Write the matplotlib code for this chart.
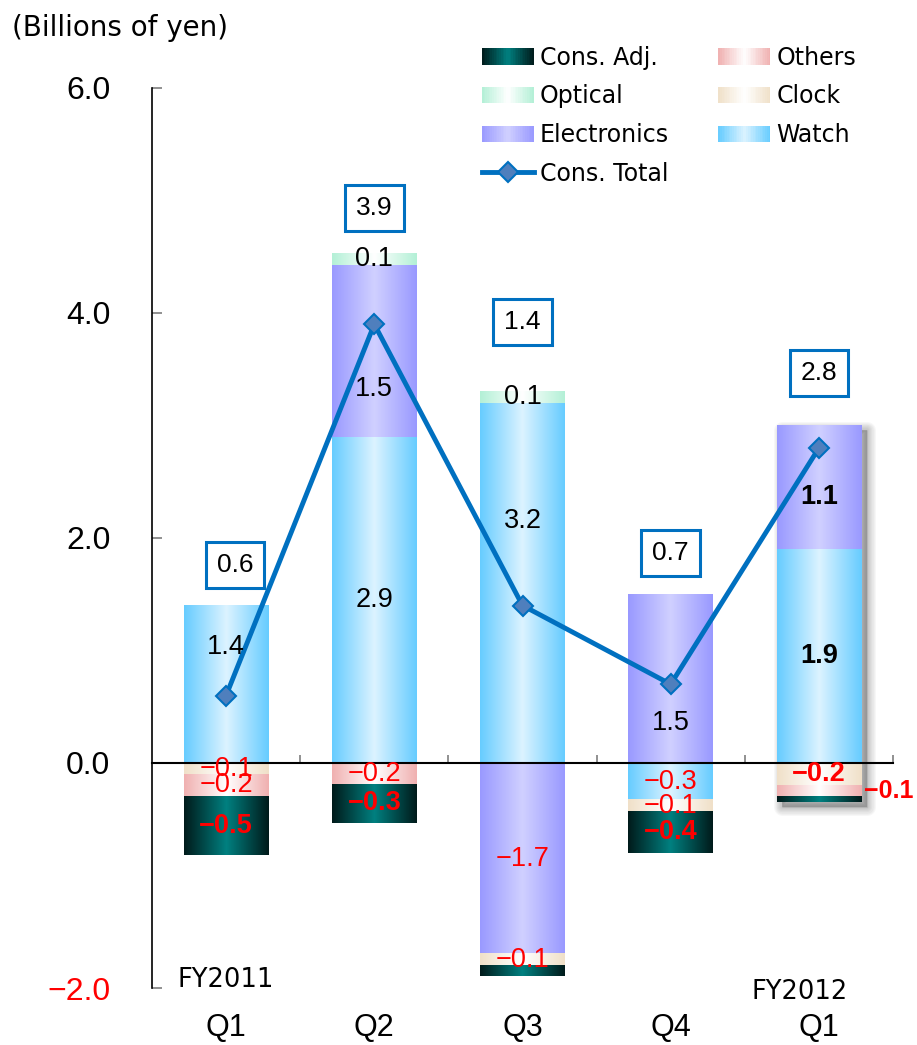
import numpy as np
import matplotlib
matplotlib.use("Agg")
import matplotlib.pyplot as plt
from matplotlib.colors import LinearSegmentedColormap
from matplotlib.legend_handler import HandlerBase
from matplotlib.patches import Rectangle
from matplotlib.lines import Line2D
from matplotlib.transforms import offset_copy, blended_transform_factory

# Operating income by segment, billions of yen
quarters = ["Q1", "Q2", "Q3", "Q4", "Q1"]
fiscal_years = ["FY2011", "", "", "", "FY2012"]

watch = [1.40, 2.90, 3.20, -0.33, 1.90]
electronics = [0.0, 1.53, -1.70, 1.50, 1.10]
optical = [0.0, 0.10, 0.10, 0.0, 0.0]
clock = [-0.10, 0.0, -0.10, -0.10, -0.20]
others = [-0.20, -0.19, 0.0, 0.0, -0.10]
cons_adj = [-0.52, -0.34, -0.09, -0.37, -0.05]
cons_total = [0.6, 3.9, 1.4, 0.7, 2.8]

yticks = [6.0, 4.0, 2.0, 0.0, -2.0]

# stacking order, with edge/centre colours of the horizontal gradient
series = [
    ("Watch", watch, "#66ccff", "#dcf3ff"),
    ("Electronics", electronics, "#9999ff", "#d0d0ff"),
    ("Optical", optical, "#b3f0d6", "#ffffff"),
    ("Clock", clock, "#f0e0c8", "#ffffff"),
    ("Others", others, "#f0b0b0", "#ffffff"),
    ("Cons. Adj.", cons_adj, "#001a1a", "#008080"),
]
hidden_labels = {("Cons. Adj.", 2), ("Cons. Adj.", 4)}
# labels nudged off the total line
label_shift = {("Watch", 0): 0.33, ("Electronics", 1): -0.34,
               ("Watch", 2): 0.55, ("Electronics", 3): -0.39,
               ("Electronics", 4): -0.09}

NUM_FONT = ["Liberation Sans", "DejaVu Sans"]
TXT_FONT = ["DejaVu Sans"]
BLUE = "#0070c0"


def gradient_cmap(edge, centre):
    return LinearSegmentedColormap.from_list("g", [edge, centre, edge])


def fmt(v):
    return f"{v:.1f}".replace("-", "\u2212")


class GradientHandler(HandlerBase):
    def __init__(self, cmap):
        super().__init__()
        self.cmap = cmap

    def create_artists(self, legend, orig_handle, xdescent, ydescent,
                       width, height, fontsize, trans):
        n = 30
        arts = []
        for i in range(n):
            r = Rectangle((-xdescent + width * i / n, -ydescent),
                          width / n * 1.05, height,
                          facecolor=self.cmap((i + 0.5) / n),
                          edgecolor="none", transform=trans)
            arts.append(r)
        return arts


fig = plt.figure(figsize=(9.17, 10.45), dpi=100)
ax = fig.add_axes([152 / 917, 1 - 988 / 1045, 741 / 917, 900 / 1045])

x = np.arange(len(quarters))
width = 0.57
pos_base = np.zeros(len(x))
neg_base = np.zeros(len(x))
grad = np.linspace(0, 1, 256)[None, :]

handles = {}
segments = []
for name, vals, edge, centre in series:
    vals = np.array(vals)
    cmap = gradient_cmap(edge, centre)
    bottoms = np.where(vals >= 0, pos_base, neg_base)
    bars = ax.bar(x, vals, width, bottom=bottoms, color="none",
                  edgecolor="none", zorder=2)
    for i, bar in enumerate(bars):
        if vals[i] == 0:
            continue
        bb = bar.get_bbox()
        ax.imshow(grad, extent=(bb.x0, bb.x1, bb.y0, bb.y1), cmap=cmap,
                  aspect="auto", interpolation="bilinear", zorder=2)
        segments.append((name, i, vals[i], bb))
    pos_base += np.clip(vals, 0, None)
    neg_base += np.clip(vals, None, 0)
    handles[name] = (Rectangle((0, 0), 1, 1), GradientHandler(cmap))

# soft drop shadow behind the latest quarter
last = len(x) - 1
shadow_tr = offset_copy(ax.transData, fig, x=4, y=-3, units="points")
for k in range(8):
    sh = Rectangle((x[last] - width / 2, neg_base[last]), width,
                   pos_base[last] - neg_base[last], transform=shadow_tr,
                   facecolor=(0, 0, 0, 0.03), edgecolor=(0, 0, 0, 0.03),
                   lw=1 + 1.6 * k, joinstyle="round", zorder=1.5)
    ax.add_patch(sh)

# segment value labels
for name, i, v, bb in segments:
    if (name, i) in hidden_labels:
        continue
    color = "black" if v > 0 else "red"
    weight = "bold" if (name == "Cons. Adj." or i == last) else "normal"
    cx, ha, size = (bb.x0 + bb.x1) / 2, "center", 19.5
    if name == "Others" and i == last:
        # too thin to hold its label, so it sits beside the bar
        cx, ha, size = bb.x1 + 0.02, "left", 18
    cy = (bb.y0 + bb.y1) / 2 + label_shift.get((name, i), 0.0)
    ax.text(cx, cy, fmt(v), ha=ha, va="center", color=color, fontsize=size,
            fontweight=weight, family=NUM_FONT, zorder=5, clip_on=False)

# consolidated total
line, = ax.plot(x, cons_total, color=BLUE, lw=3.5, marker="D", ms=10,
                mfc="#4f7fbd", mec=BLUE, mew=1.5, zorder=4)
box_gap = [0.36, 0.40, 0.62, 0.37, 0.47]
box_dx = [0.06, 0.0, 0.0, 0.0, 0.0]
for i, t in enumerate(cons_total):
    ax.text(x[i] + box_dx[i], pos_base[i] + box_gap[i], f"{t:.1f}",
            ha="center", va="center", fontsize=19, family=NUM_FONT, zorder=6,
            bbox=dict(boxstyle="square,pad=0.42", fc="white", ec=BLUE, lw=2.2))

ax.set_xlim(-0.5, len(x) - 0.5)
ax.set_ylim(-2.0, 6.0)

ax.spines["top"].set_visible(False)
ax.spines["right"].set_visible(False)
ax.spines["left"].set_linewidth(1.2)
ax.spines["bottom"].set_position(("data", 0))
ax.spines["bottom"].set_linewidth(1.5)

ax.set_yticks(yticks)
ax.set_yticklabels([fmt(v) for v in yticks], family=NUM_FONT, fontsize=23)
for lbl, v in zip(ax.get_yticklabels(), yticks):
    if v < 0:
        lbl.set_color("red")
ax.tick_params(axis="y", direction="in", length=7, width=1.4,
               color="#909090", pad=30)

ax.set_xticks(x + 0.5)
ax.set_xticklabels([])
ax.tick_params(axis="x", direction="in", length=6, width=1.4, color="#909090")

tr = blended_transform_factory(ax.transData, ax.transAxes)
for i, q in enumerate(quarters):
    ax.text(x[i], -0.044, q, transform=tr, ha="center", va="center",
            fontsize=22, family=NUM_FONT, clip_on=False)
ax.text(x[0], 0.009, fiscal_years[0], transform=tr, ha="center",
        va="center", fontsize=18.5, family=TXT_FONT, clip_on=False)
ax.text(x[4] - 0.13, -0.0045, fiscal_years[4], transform=tr, ha="center",
        va="center", fontsize=18.5, family=TXT_FONT, clip_on=False)

fig.text(12 / 917, 1 - 28 / 1045, "(Billions of yen)", ha="left",
         va="center", fontsize=20, family=TXT_FONT)

# legend: column-wise fill, four rows in the first column
order = ["Cons. Adj.", "Optical", "Electronics", "Cons. Total",
         "Others", "Clock", "Watch"]
total_handle = Line2D([], [], color=BLUE, lw=3.5, marker="D", ms=10,
                      mfc="#4f7fbd", mec=BLUE, mew=1.5)
leg_handles, hmap = [], {}
for name in order:
    if name == "Cons. Total":
        leg_handles.append(total_handle)
    else:
        proxy, handler = handles[name]
        leg_handles.append(proxy)
        hmap[proxy] = handler
leg = fig.legend(leg_handles, order, handler_map=hmap, ncol=2,
                 loc="upper left", bbox_to_anchor=(470 / 917, 1 - 34 / 1045),
                 frameon=False, borderpad=0, handlelength=2.2,
                 handletextpad=0.25, columnspacing=2.1, labelspacing=0.62,
                 prop={"family": TXT_FONT, "size": 17})

fig.savefig("out.png", dpi=100)
